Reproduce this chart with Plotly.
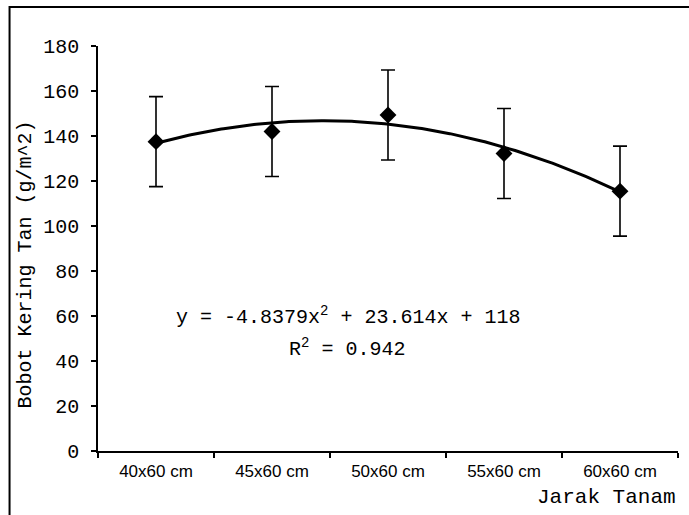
import plotly.graph_objects as go
import numpy as np

# ---- data ----
categories = ["40x60 cm", "45x60 cm", "50x60 cm", "55x60 cm", "60x60 cm"]
positions = [1, 2, 3, 4, 5]
bobot = [137.5, 142.0, 149.3, 132.2, 115.5]
error = [20, 20, 20, 20, 20]
# trendline coefficients shown on chart: y = a x^2 + b x + c
coef_a, coef_b, coef_c = -4.8379, 23.614, 118.0
r2 = 0.942
y_ticks = [0, 20, 40, 60, 80, 100, 120, 140, 160, 180]

mono = "Liberation Mono, Courier New, monospace"
sans = "Liberation Sans, Arial, sans-serif"

xs = np.linspace(positions[0], positions[-1], 200)
ys = coef_a * xs**2 + coef_b * xs + coef_c

fig = go.Figure()
fig.add_trace(go.Scatter(
    x=xs, y=ys, mode="lines",
    line=dict(color="black", width=3),
    hoverinfo="skip", showlegend=False))
fig.add_trace(go.Scatter(
    x=positions, y=bobot, mode="markers",
    marker=dict(symbol="diamond", size=13, color="black"),
    error_y=dict(type="data", array=error, visible=True,
                 color="black", thickness=1.6, width=7),
    showlegend=False))

fig.update_layout(
    width=689, height=515,
    margin=dict(l=98, r=11, t=46, b=64),
    paper_bgcolor="white", plot_bgcolor="white",
    xaxis=dict(
        range=[0.5, 5.5], tickmode="array", tickvals=positions,
        ticktext=categories, ticks="", showgrid=False, zeroline=False,
        showline=True, linecolor="black", linewidth=1.5,
        tickfont=dict(family=sans, size=17, color="black"),
        ticklabelstandoff=4,
        minor=dict(tickmode="array", tickvals=[0.5, 1.5, 2.5, 3.5, 4.5, 5.5],
                   ticks="outside", ticklen=5, tickcolor="black", tickwidth=1.5,
                   showgrid=False),
    ),
    yaxis=dict(
        range=[0, 180], tickmode="array", tickvals=y_ticks,
        ticks="outside", ticklen=5, tickcolor="black", tickwidth=1.5,
        showgrid=False, zeroline=False,
        showline=True, linecolor="black", linewidth=1.5,
        tickfont=dict(family=mono, size=20, color="black"),
        ticklabelstandoff=8,
    ),
    annotations=[
        dict(text="Bobot Kering Tan (g/m^2)", textangle=-90,
             xref="paper", yref="paper", x=-0.125, y=0.459,
             xanchor="center", yanchor="middle", showarrow=False,
             font=dict(family=mono, size=20, color="black")),
        dict(text="Jarak Tanam", xref="paper", yref="paper",
             x=1.0, y=-0.1136, xanchor="right", yanchor="middle",
             showarrow=False, font=dict(family=mono, size=21, color="black")),
        dict(text=f"y = {coef_a}x<sup>2</sup> + {coef_b}x + {coef_c:.0f}",
             xref="paper", yref="y", x=0.4307, y=60,
             xanchor="center", yanchor="middle", showarrow=False,
             font=dict(family=mono, size=20, color="black")),
        dict(text=f"R<sup>2</sup> = {r2}",
             xref="paper", yref="y", x=0.43, y=45.8,
             xanchor="center", yanchor="middle", showarrow=False,
             font=dict(family=mono, size=20, color="black")),
    ],
    shapes=[
        dict(type="path", xref="paper", yref="paper",
             path="M -0.1525,-0.2 L -0.1525,1.0963 L 1.05,1.0963",
             line=dict(color="black", width=2)),
    ],
)

fig.write_html("out.html")
